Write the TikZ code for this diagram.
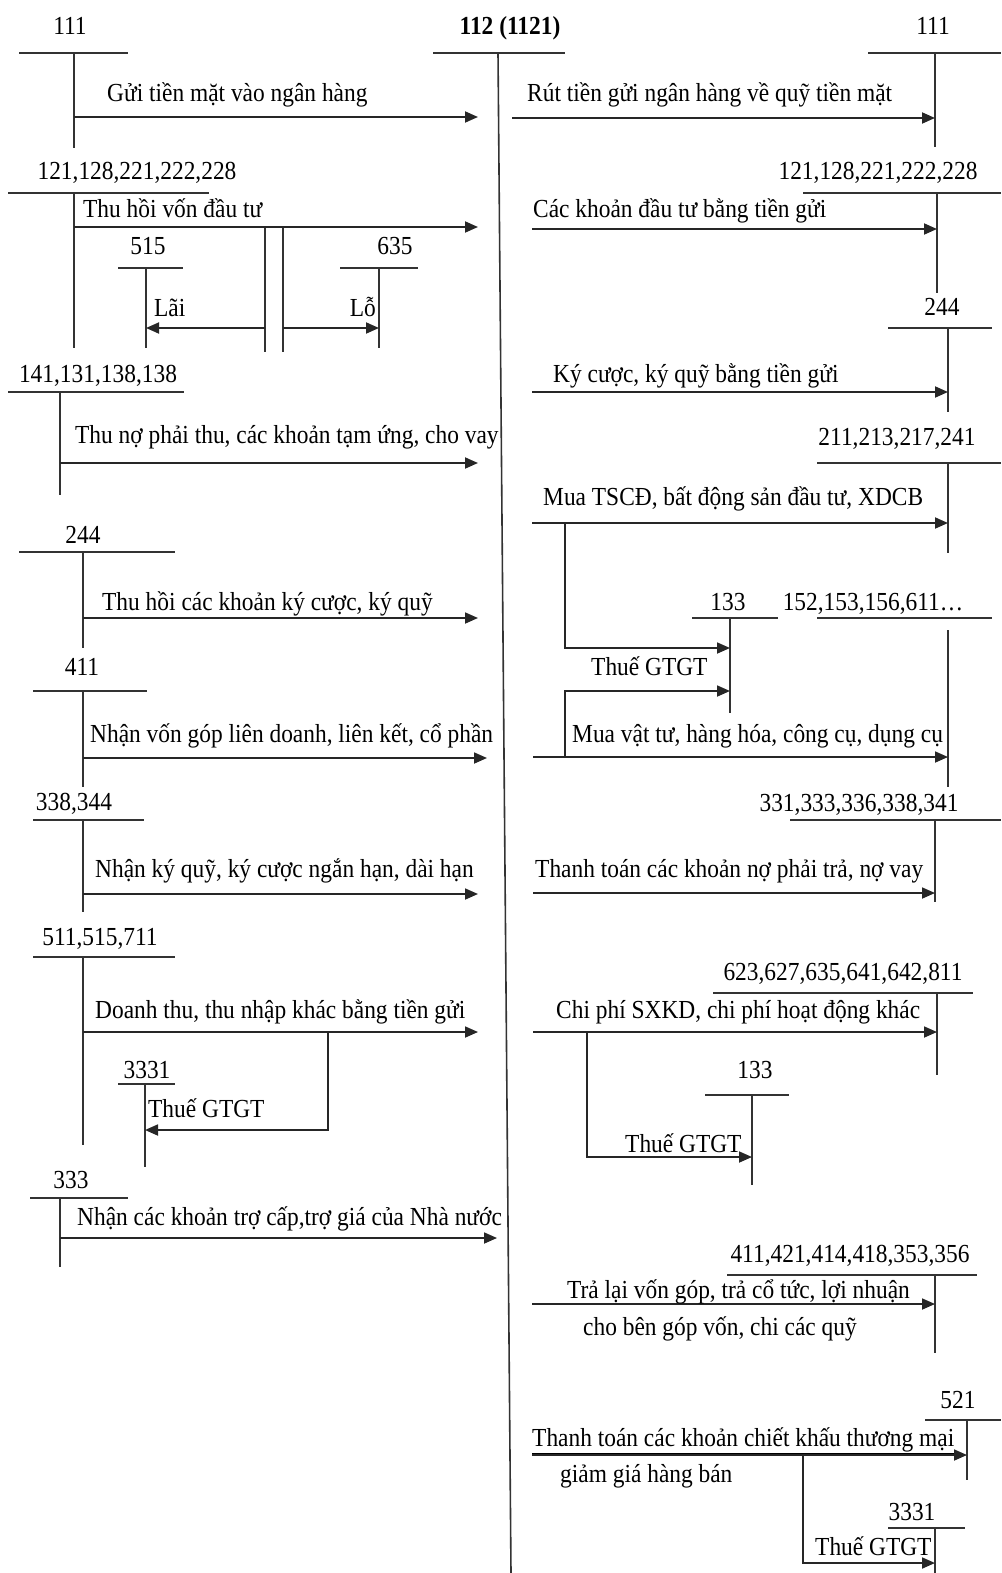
\documentclass[tikz,border=0pt]{standalone}
\usepackage{fontspec}
\setmainfont{Liberation Serif}[FakeStretch=0.9]
\usetikzlibrary{arrows.meta}
\tikzset{
  tline/.style={line width=1.6pt, draw=black!80},
  arr/.style={line width=1.8pt, draw=black!85, -{Triangle[length=13pt,width=11pt]}},
  lbl/.style={font=\fontsize{26}{30}\selectfont, inner sep=0pt, anchor=base west},
  lble/.style={font=\fontsize{26}{30}\selectfont, inner sep=0pt, anchor=base east},
  acclbl/.style={font=\fontsize{26}{30}\selectfont, inner sep=0pt, anchor=base},
}
% #1 name, #2 label, #3 xl, #4 xr, #5 y of bar, #6 x of stem, #7 stem top, #8 stem bottom, #9 label "x,y"
\newcommand{\TAcc}[9]{%
  \node[acclbl] (#1-lbl) at (#9) {#2};
  \coordinate (#1-l) at (#3,#5);
  \coordinate (#1-r) at (#4,#5);
  \coordinate (#1-t) at (#6,#7);
  \coordinate (#1-b) at (#6,#8);
  \draw[tline] (#1-l) -- (#1-r);
  \draw[tline] (#1-t) -- (#1-b);
}
\begin{document}
\begin{tikzpicture}[x=1pt,y=-1pt]
\useasboundingbox (0,0) rectangle (1001,1573);
% main account 112
\node[acclbl,font=\fontsize{26}{30}\selectfont\bfseries] (m-lbl) at (510,35) {112 (1121)};
\coordinate (m-l) at (433,53); \coordinate (m-r) at (565,53);
\coordinate (m-t) at (498,53); \coordinate (m-b) at (511,1573);
\draw[tline] (m-l) -- (m-r);
\draw[tline] (m-t) -- (m-b);
% T accounts
\TAcc{a111L}{111}{19}{128}{53}{74}{53}{148}{70,35}
\TAcc{a111R}{111}{868}{1001}{53}{935}{53}{147}{933,35}
\TAcc{a121L}{121,128,221,222,228}{8}{209}{193}{74}{193}{348}{137,180}
\TAcc{a121R}{121,128,221,222,228}{803}{1001}{193}{937}{193}{293}{878,180}
\TAcc{a515}{515}{118}{183}{268}{146}{268}{348}{148,254}
\TAcc{a635}{635}{340}{418}{268}{379}{268}{348}{395,254}
\TAcc{a244R}{244}{888}{992}{328}{948}{328}{412}{942,315}
\TAcc{a141}{141,131,138,138}{8}{184}{392}{60}{392}{495}{98,382}
\TAcc{a211}{211,213,217,241}{817}{1001}{463}{948}{463}{553}{897,445}
\TAcc{a133a}{133}{692}{778}{618}{730}{618}{713}{728,610}
\TAcc{a152}{152,153,156,611…}{817}{992}{618}{948}{630}{787}{873,610}
\TAcc{a244L}{244}{19}{175}{552}{83}{552}{648}{83,543}
\TAcc{a411L}{411}{33}{147}{691}{83}{691}{787}{82,675}
\TAcc{a338}{338,344}{33}{144}{820}{83}{820}{912}{74,810}
\TAcc{a331}{331,333,336,338,341}{790}{1001}{820}{935}{820}{902}{859,811}
\TAcc{a511}{511,515,711}{33}{175}{957}{83}{957}{1145}{100,945}
\TAcc{a623}{623,627,635,641,642,811}{713}{973}{993}{937}{993}{1075}{843,980}
\TAcc{a3331L}{3331}{118}{175}{1084}{145}{1084}{1167}{147,1078}
\TAcc{a133b}{133}{705}{789}{1095}{752}{1095}{1185}{755,1078}
\TAcc{a333}{333}{30}{128}{1198}{60}{1198}{1267}{71,1188}
\TAcc{a411R}{411,421,414,418,353,356}{727}{977}{1275}{935}{1275}{1353}{850,1262}
\TAcc{a521}{521}{925}{1001}{1420}{967}{1420}{1480}{958,1408}
\TAcc{a3331R}{3331}{888}{965}{1528}{935}{1528}{1573}{912,1520}
% double stem below "Thu hoi von dau tu"
\coordinate (d1t) at (265,228); \coordinate (d1b) at (265,352);
\coordinate (d2t) at (283,228); \coordinate (d2b) at (283,352);
\draw[tline] (d1t) -- (d1b);
\draw[tline] (d2t) -- (d2b);
% ---- left side arrows
\coordinate (e1s) at (74,117);  \coordinate (e1e) at (478,117);
\draw[arr] (e1s) -- (e1e);
\node[lbl] (t1) at (107,102) {Gửi tiền mặt vào ngân hàng};
\coordinate (e3s) at (74,227);  \coordinate (e3e) at (478,227);
\draw[arr] (e3s) -- (e3e);
\node[lbl] (t3) at (83,218) {Thu hồi vốn đầu tư};
\coordinate (e5s) at (265,328); \coordinate (e5e) at (146,328);
\draw[arr] (e5s) -- (e5e);
\node[lbl] (t5) at (154,316) {Lãi};
\coordinate (e6s) at (283,328); \coordinate (e6e) at (379,328);
\draw[arr] (e6s) -- (e6e);
\node[lble] (t6) at (376,316) {Lỗ};
\coordinate (e8s) at (60,463);  \coordinate (e8e) at (478,463);
\draw[arr] (e8s) -- (e8e);
\node[lbl] (t8) at (75,443) {Thu nợ phải thu, các khoản tạm ứng, cho vay};
\coordinate (e13s) at (83,618); \coordinate (e13e) at (478,618);
\draw[arr] (e13s) -- (e13e);
\node[lbl] (t13) at (102,610) {Thu hồi các khoản ký cược, ký quỹ};
\coordinate (e14s) at (83,758); \coordinate (e14e) at (487,758);
\draw[arr] (e14s) -- (e14e);
\node[lbl] (t14) at (90,742) {Nhận vốn góp liên doanh, liên kết, cổ phần};
\coordinate (e15s) at (83,894); \coordinate (e15e) at (478,894);
\draw[arr] (e15s) -- (e15e);
\node[lbl] (t15) at (95,877) {Nhận ký quỹ, ký cược ngắn hạn, dài hạn};
\coordinate (e16s) at (83,1032); \coordinate (e16e) at (478,1032);
\draw[arr] (e16s) -- (e16e);
\node[lbl] (t16) at (95,1018) {Doanh thu, thu nhập khác bằng tiền gửi};
\coordinate (e17s) at (328,1032); \coordinate (e17m) at (328,1130); \coordinate (e17e) at (145,1130);
\draw[arr] (e17s) -- (e17m) -- (e17e);
\node[lbl] (t17) at (148,1117) {Thuế GTGT};
\coordinate (e18s) at (60,1238); \coordinate (e18e) at (497,1238);
\draw[arr] (e18s) -- (e18e);
\node[lbl] (t18) at (77,1225) {Nhận các khoản trợ cấp,trợ giá của Nhà nước};
% ---- right side arrows
\coordinate (f2s) at (512,118); \coordinate (f2e) at (935,118);
\draw[arr] (f2s) -- (f2e);
\node[lbl] (u2) at (527,102) {Rút tiền gửi ngân hàng về quỹ tiền mặt};
\coordinate (f4s) at (532,229); \coordinate (f4e) at (937,229);
\draw[arr] (f4s) -- (f4e);
\node[lbl] (u4) at (533,218) {Các khoản đầu tư bằng tiền gửi};
\coordinate (f7s) at (532,392); \coordinate (f7e) at (948,392);
\draw[arr] (f7s) -- (f7e);
\node[lbl] (u7) at (553,382) {Ký cược, ký quỹ bằng tiền gửi};
\coordinate (f9s) at (532,523); \coordinate (f9e) at (948,523);
\draw[arr] (f9s) -- (f9e);
\node[lbl] (u9) at (543,505) {Mua TSCĐ, bất động sản đầu tư, XDCB};
\coordinate (f10s) at (565,523); \coordinate (f10m) at (565,648); \coordinate (f10e) at (730,648);
\draw[arr] (f10s) -- (f10m) -- (f10e);
\node[lbl] (u10) at (591,675) {Thuế GTGT};
\coordinate (f11s) at (565,757); \coordinate (f11m) at (565,691); \coordinate (f11e) at (730,691);
\draw[arr] (f11s) -- (f11m) -- (f11e);
\coordinate (f12s) at (533,757); \coordinate (f12e) at (948,757);
\draw[arr] (f12s) -- (f12e);
\node[lbl] (u12) at (572,742) {Mua vật tư, hàng hóa, công cụ, dụng cụ};
\coordinate (f19s) at (533,893); \coordinate (f19e) at (935,893);
\draw[arr] (f19s) -- (f19e);
\node[lbl] (u19) at (535,877) {Thanh toán các khoản nợ phải trả, nợ vay};
\coordinate (f20s) at (533,1032); \coordinate (f20e) at (937,1032);
\draw[arr] (f20s) -- (f20e);
\node[lbl] (u20) at (556,1018) {Chi phí SXKD, chi phí hoạt động khác};
\coordinate (f21s) at (587,1032); \coordinate (f21m) at (587,1157); \coordinate (f21e) at (752,1157);
\draw[arr] (f21s) -- (f21m) -- (f21e);
\node[lbl] (u21) at (625,1152) {Thuế GTGT};
\coordinate (f22s) at (532,1304); \coordinate (f22e) at (935,1304);
\draw[arr] (f22s) -- (f22e);
\node[lbl] (u22a) at (567,1298) {Trả lại vốn góp, trả cổ tức, lợi nhuận};
\node[lbl] (u22b) at (583,1335) {cho bên góp vốn, chi các quỹ};
\coordinate (f23s) at (532,1455); \coordinate (f23e) at (967,1455);
\draw[arr] (f23s) -- (f23e);
\node[lbl] (u23a) at (532,1446) {\underline{Thanh toán các khoản chiết khấu thương mại}};
\node[lbl] (u23b) at (560,1482) {giảm giá hàng bán};
\coordinate (f24s) at (803,1455); \coordinate (f24m) at (803,1563); \coordinate (f24e) at (935,1563);
\draw[arr] (f24s) -- (f24m) -- (f24e);
\node[lbl] (u24) at (815,1555) {Thuế GTGT};
\end{tikzpicture}
\end{document}
